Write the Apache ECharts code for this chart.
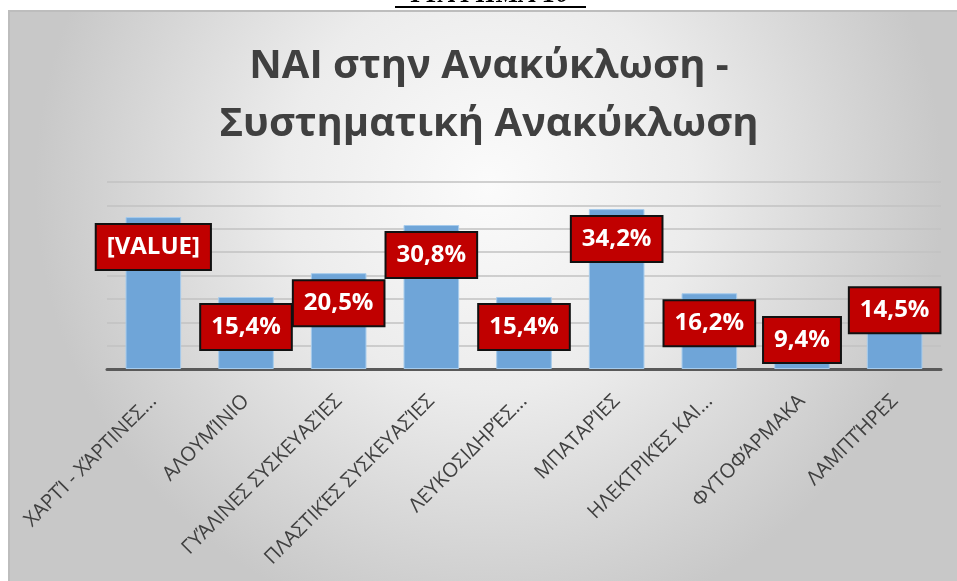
<!DOCTYPE html>
<html>
<head>
<meta charset="utf-8">
<script src="https://cdn.jsdelivr.net/npm/echarts@6/dist/echarts.min.js"></script>
<style>
html,body{margin:0;padding:0;background:#fff;}
#chart{width:957px;height:581px;}
</style>
</head>
<body>
<div id="chart"></div>
<script>
const categories = ['ΧΑΡΤΊ - ΧΆΡΤΙΝΕΣ...', 'ΑΛΟΥΜΊΝΙΟ', 'ΓΥΆΛΙΝΕΣ ΣΥΣΚΕΥΑΣΊΕΣ', 'ΠΛΑΣΤΙΚΈΣ ΣΥΣΚΕΥΑΣΊΕΣ', 'ΛΕΥΚΟΣΙΔΗΡΈΣ...', 'ΜΠΑΤΑΡΊΕΣ', 'ΗΛΕΚΤΡΙΚΈΣ ΚΑΙ...', 'ΦΥΤΟΦΆΡΜΑΚΑ', 'ΛΑΜΠΤΉΡΕΣ'];
const values = [32.5, 15.4, 20.5, 30.8, 15.4, 34.2, 16.2, 9.4, 14.5];
const labelTexts = ['[VALUE]', '15,4%', '20,5%', '30,8%', '15,4%', '34,2%', '16,2%', '9,4%', '14,5%'];
const yTicks = [0, 5, 10, 15, 20, 25, 30, 35, 40];

const labelNudge = {7: -15, 8: -21};
const FONT = 'Open Sans';

const chart = echarts.init(document.getElementById('chart'), null, {renderer: 'canvas'});

const seriesData = values.map((v, i) => {
  const item = {value: v};
  if (labelNudge[i] !== undefined) item.label = {offset: [0, labelNudge[i]]};
  return item;
});

const option = {
  backgroundColor: '#ffffff',
  animation: false,
  graphic: [
    {
      type: 'rect', z: -10, silent: true,
      shape: {x: 9, y: 11, width: 960, height: 580},
      style: {
        fill: new echarts.graphic.RadialGradient(0.5, 0.3, 0.78, [
          {offset: 0, color: '#fbfbfb'},
          {offset: 0.45, color: '#ececec'},
          {offset: 1, color: '#c8c8c8'}
        ]),
        stroke: '#bdbdbd', lineWidth: 2
      }
    },
    {
      type: 'text', silent: true, x: 490, y: -18,
      style: {text: 'ΓΡΑΦΗΜΑ 10', font: 'italic bold 26px "Liberation Serif"', fill: '#000',
              align: 'center', verticalAlign: 'top'}
    },
    {
      type: 'rect', silent: true,
      shape: {x: 395, y: 6, width: 191, height: 2},
      style: {fill: '#000'}
    },
    {
      type: 'text', silent: true, x: 489, y: 38,
      style: {
        text: 'ΝΑΙ στην Ανακύκλωση -\nΣυστηματική Ανακύκλωση',
        font: 'bold 40px "' + FONT + '"', fill: '#404040',
        align: 'center', verticalAlign: 'top', lineHeight: 58
      }
    }
  ],
  grid: {left: 107, right: 16, top: 182, bottom: 212, containLabel: false},
  xAxis: {
    type: 'category',
    data: categories,
    axisLine: {show: true, lineStyle: {color: '#595959', width: 3}},
    axisTick: {show: false},
    axisLabel: {
      rotate: 45, interval: 0, margin: 29,
      color: '#404040', fontFamily: FONT, fontSize: 20
    }
  },
  yAxis: {
    type: 'value', min: yTicks[0], max: yTicks[yTicks.length - 1], interval: yTicks[1] - yTicks[0],
    axisLine: {show: false}, axisTick: {show: false}, axisLabel: {show: false},
    splitLine: {show: true, lineStyle: {color: '#c2c2c2', width: 1.5}}
  },
  series: [{
    type: 'bar',
    data: seriesData,
    barCategoryGap: '40%',
    itemStyle: {color: '#6fa5d8', borderColor: '#a6cbec', borderWidth: 1},
    label: {
      show: true,
      position: 'insideTop',
      distance: 8,
      formatter: p => labelTexts[p.dataIndex],
      color: '#ffffff',
      fontFamily: FONT,
      fontWeight: 'bold',
      fontSize: 24,
      lineHeight: 28,
      backgroundColor: '#c00000',
      borderColor: '#111111',
      borderWidth: 2,
      padding: [8, 10, 8, 10]
    }
  }]
};
chart.setOption(option);
</script>
</body>
</html>
